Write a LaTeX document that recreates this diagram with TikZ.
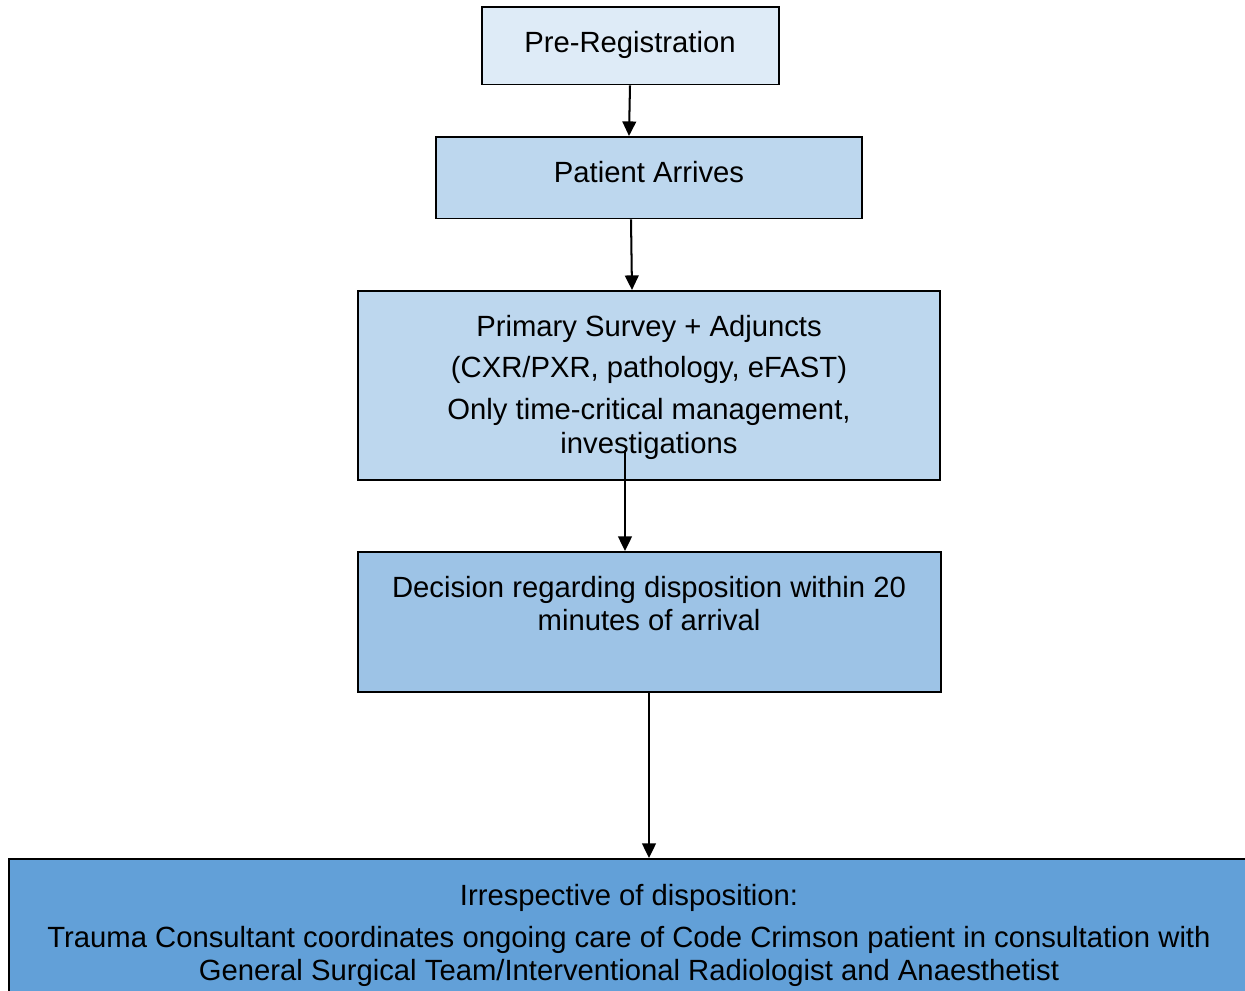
\documentclass[tikz,border=0pt]{standalone}
\usepackage{fontspec}
\setmainfont{Liberation Sans}
\usetikzlibrary{arrows.meta,calc}
\definecolor{cPre}{HTML}{DEEBF7}
\definecolor{cMid}{HTML}{BDD7EE}
\definecolor{cDec}{HTML}{9DC3E6}
\definecolor{cBot}{HTML}{62A0D8}
\begin{document}
\begin{tikzpicture}[x=0.02cm,y=-0.02cm,
  box/.style={draw=black,line width=1pt,inner sep=0pt,anchor=north west},
  txt/.style={font=\fontsize{16.65}{19}\selectfont,inner sep=0pt,anchor=base},
  arr/.style={line width=1.15pt,-{Triangle[length=8.3pt,width=7.8pt]}}]
\useasboundingbox (0,0) rectangle (1245,991);
\clip (0,0) rectangle (1245,991);
\fill[white] (0,0) rectangle (1245,991);
% boxes
\node[box,fill=cPre,minimum width=298*0.567pt,minimum height=78*0.567pt] (pre) at (481,6) {};
\node[box,fill=cMid,minimum width=428*0.567pt,minimum height=82*0.567pt] (arr) at (435,136) {};
\node[box,fill=cMid,minimum width=584*0.567pt,minimum height=190*0.567pt] (prim) at (357,290) {};
\node[box,fill=cDec,minimum width=585*0.567pt,minimum height=141*0.567pt] (dec) at (357,551) {};
\node[box,fill=cBot,minimum width=1260*0.567pt,minimum height=160*0.567pt] (bot) at (8,858) {};
% texts
\node[txt] (t1) at (630,52) {Pre-Registration};
\node[txt] (t2) at (649,182) {Patient Arrives};
\node[txt] (t3a) at (649,336) {Primary Survey + Adjuncts};
\node[txt] (t3b) at (649,377) {(CXR/PXR, pathology, eFAST)};
\node[txt] (t3c) at (649,419) {Only time-critical management,};
\node[txt] (t3d) at (649,453) {investigations};
\node[txt] (t4a) at (649,597) {Decision regarding disposition within 20};
\node[txt] (t4b) at (649,630) {minutes of arrival};
\node[txt] (t5a) at (629,905) {Irrespective of disposition:};
\node[txt] (t5b) at (629,947) {Trauma Consultant coordinates ongoing care of Code Crimson patient in consultation with};
\node[txt] (t5c) at (629,980) {General Surgical Team/Interventional Radiologist and Anaesthetist};
% connectors
\coordinate (c3) at (625,450);
\draw[arr] ($(pre.south west)+(149,0)$) -- ($(arr.north west)+(194,0)$);
\draw[arr] ($(arr.south west)+(196,0)$) -- ($(prim.north west)+(275,0)$);
\draw[arr] (c3) -- ($(dec.north west)+(268,0)$);
\draw[arr] ($(dec.south west)+(292,0)$) -- ($(bot.north west)+(641,0)$);
\end{tikzpicture}
\end{document}
